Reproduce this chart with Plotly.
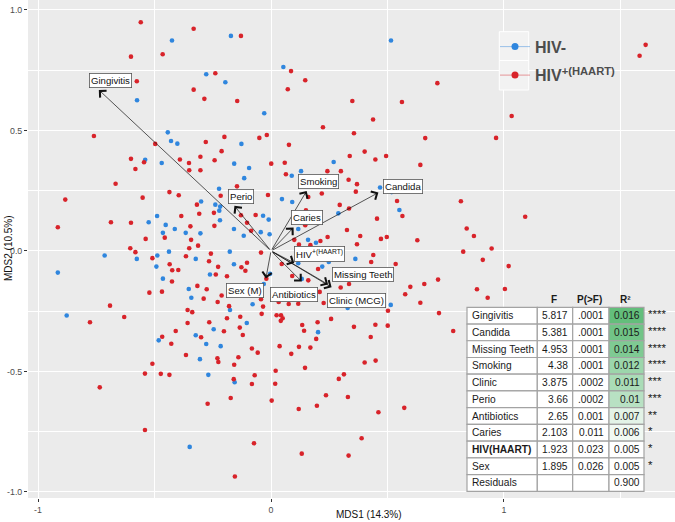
import plotly.graph_objects as go

# ---------------- data ----------------
hiv_neg_x = [-0.425, -0.172, -0.278, -0.196, -0.575, -0.443, -0.429, -0.402, -0.127, -0.540,
             -0.469, -0.158, -0.094, -0.115, -0.223, -0.300, -0.239, -0.218, -0.222, -0.127,
             -0.489, -0.525, -0.452, -0.413, -0.366, -0.303, -0.219, -0.159, -0.117, -0.464,
             0.515, 0.053, -0.029, 0.269, 0.129, 0.089, 0.047, 0.091, -0.034, -0.010,
             -0.044, -0.006, 0.289, 0.117, 0.159, 0.193, 0.468, 0.518, 0.551,
             -0.714, -0.915, -0.576, -0.488, -0.438, -0.492, -0.323, -0.177, -0.159, -0.262,
             -0.464, -0.353, -0.342, -0.176, -0.877, -0.104, -0.246, -0.323, -0.482, -0.278,
             -0.216, -0.305, -0.269, -0.156, -0.349,
             0.362, 0.248, 0.220, 0.117, -0.004, 0.132, -0.031, -0.079, 0.329, 0.514, 0.202]
hiv_neg_y = [0.873, 0.892, 0.733, 0.700, 0.625, 0.492, 0.456, 0.445, 0.444, 0.378,
             0.365, 0.362, 0.344, 0.302, 0.258, 0.205, 0.192, 0.184, 0.167, 0.203,
             0.145, 0.119, 0.108, 0.091, 0.075, 0.073, 0.127, 0.091, 0.063, 0.075,
             0.873, 0.763, 0.571, 0.369, 0.331, 0.312, 0.215, 0.203, 0.146, 0.130,
             0.078, 0.069, 0.156, 0.091, 0.046, 0.034, 0.263, 0.244, 0.170,
             -0.019, -0.090, -0.033, -0.019, -0.003, -0.065, -0.033, -0.003, -0.055, -0.098,
             -0.115, -0.158, -0.194, -0.245, -0.268, -0.299, -0.325, -0.350, -0.371, -0.386,
             -0.395, -0.449, -0.514, -0.545, -0.813,
             -0.033, -0.046, -0.065, -0.051, -0.095, -0.116, -0.137, -0.221, -0.237, -0.224, -0.337]

hiv_pos_x = [-0.559, -0.332, -0.129, -0.601, -0.465, -0.239, -0.576, -0.332, -0.286, -0.145,
             -0.760, -0.497, -0.280, -0.200, -0.212, -0.601, -0.545, -0.582, -0.391, -0.352,
             -0.303, -0.242, -0.351, -0.303, -0.667, -0.146, -0.883, -0.551, -0.436, -0.396,
             -0.216, -0.318, -0.385, -0.308, -0.245, -0.129, -0.915, -0.687, -0.601, -0.346,
             -0.243, -0.538, -0.456, -0.343, -0.313, -0.604, -0.351, -0.103,
             0.086, 0.147, 0.072, 0.714, 0.349, 0.562, 0.438, 0.223, -0.050, -0.018,
             0.356, 0.662, 0.077, 0.402, 0.338, 0.448, 0.494, 0.641, 0.001, 0.059,
             0.242, 0.300, 0.064, 0.333, 0.369, 0.364, 0.218, 0.160, -0.013, 0.541,
             0.815, 0.295, 0.335, 0.150, -0.066, 0.564, 0.455, 0.147, 0.840, 0.326,
             0.100, 0.169, 0.243, 0.212, 0.383, 0.369, 0.472, 0.497, 0.628, 0.120, -0.085,
             1.608, 1.582, 1.033, 0.966, 1.091, 0.871, 0.947, 0.909, 1.020, 0.884, 1.004, 0.930,
             -0.582, -0.365, -0.258, -0.509, -0.266, -0.435, -0.424, -0.398, -0.227, -0.127,
             -0.103, -0.110, -0.237, -0.189, -0.425, -0.316, -0.276, -0.522, -0.468, -0.212,
             -0.289, -0.229, -0.691, -0.180, -0.358, -0.338, -0.630, -0.777, -0.132, -0.189,
             -0.358, -0.265, -0.134, -0.409, -0.202, -0.121, -0.467, -0.300, -0.428, -0.365,
             -0.140, -0.230, -0.226, -0.158, -0.509, -0.541, -0.473, -0.436, -0.160, -0.735,
             -0.173, -0.272, -0.541, -0.155,
             -0.043, 0.439, 0.430, 0.535, 0.825, 0.046, 0.202, 0.091, 0.160, -0.020,
             0.335, 0.299, 0.598, 0.658, 0.717, 0.576, 0.641, 0.721, 0.502, 0.209,
             -0.043, 0.033, 0.076, 0.117, 0.226, -0.034, -0.040, 0.024, 0.043, 0.050,
             0.042, 0.258, 0.200, 0.134, 0.142, 0.356, 0.448, 0.501, 0.782, 0.428,
             0.194, 0.037, 0.120, 0.169, -0.082, -0.057, 0.087, 0.402, 0.449, 0.146,
             0.020, -0.070, -0.082, 0.018, 0.313, 0.291, 0.236, 0.330, 0.003, 0.119,
             0.197, 0.461, 0.572, 0.389, -0.073, 0.132, 0.333]
hiv_pos_y = [0.949, 0.922, 0.892, 0.806, 0.816, 0.737, 0.704, 0.669, 0.631, 0.622,
             0.477, 0.444, 0.452, 0.473, 0.414, 0.382, 0.368, 0.340, 0.379, 0.365,
             0.391, 0.376, 0.335, 0.335, 0.279, 0.268, 0.213, 0.221, 0.244, 0.231,
             0.229, 0.192, 0.145, 0.154, 0.158, 0.148, 0.098, 0.119, 0.117, 0.102,
             0.104, 0.050, 0.055, 0.046, 0.022, 0.011, 0.011, 0.117,
             0.746, 0.708, 0.671, 0.696, 0.622, 0.618, 0.545, 0.513, 0.469, 0.481,
             0.488, 0.468, 0.440, 0.412, 0.394, 0.379, 0.394, 0.357, 0.362, 0.366,
             0.331, 0.331, 0.318, 0.295, 0.277, 0.246, 0.238, 0.224, 0.232, 0.207,
             0.206, 0.191, 0.176, 0.169, 0.149, 0.145, 0.134, 0.107, 0.093, 0.087,
             0.046, 0.024, 0.058, 0.041, 0.062, 0.028, 0.050, 0.058, 0.044, 0.026, 0.084,
             0.855, 0.810, 0.560, 0.469, 0.142, 0.062, 0.010, -0.037, -0.063, -0.159, -0.158, -0.194,
             -0.005, -0.022, -0.011, -0.030, -0.043, -0.055, -0.080, -0.079, -0.066, -0.068,
             -0.049, -0.082, -0.098, -0.105, -0.127, -0.145, -0.159, -0.173, -0.169, -0.185,
             -0.198, -0.212, -0.227, -0.229, -0.245, -0.254, -0.274, -0.296, -0.273, -0.279,
             -0.299, -0.296, -0.318, -0.332, -0.333, -0.349, -0.356, -0.358, -0.385, -0.432,
             -0.441, -0.445, -0.461, -0.472, -0.468, -0.509, -0.510, -0.514, -0.532, -0.566,
             -0.610, -0.634, -0.743, -0.936,
             -0.007, -0.017, -0.046, -0.054, -0.003, -0.054, -0.075, -0.104, -0.122, -0.115,
             -0.137, -0.152, -0.149, -0.137, -0.119, -0.180, -0.215, -0.258, -0.248, -0.170,
             -0.200, -0.212, -0.220, -0.219, -0.216, -0.231, -0.261, -0.267, -0.267, -0.279,
             -0.290, -0.282, -0.296, -0.307, -0.331, -0.315, -0.306, -0.310, -0.332, -0.357,
             -0.365, -0.395, -0.398, -0.401, -0.405, -0.422, -0.427, -0.463, -0.455, -0.485,
             -0.497, -0.516, -0.552, -0.551, -0.512, -0.531, -0.599, -0.606, -0.621, -0.656,
             -0.642, -0.669, -0.651, -0.777, -0.798, -0.841, -0.849]

# fitted vectors (envfit)
vec_text = ["Gingivitis", "Perio", "Smoking", "Candida", "Caries", "HIV<sup>+(HAART)</sup>",
            "Antibiotics", "Missing Teeth", "Clinic (MCG)", "Sex (M)"]
vec_x = [-0.739, -0.157, 0.153, 0.461, 0.097, 0.100, 0.132, 0.245, 0.260, -0.022]
vec_y = [0.668, 0.187, 0.249, 0.242, 0.097, -0.050, -0.127, -0.139, -0.151, -0.114]
lab_x = [-0.689, -0.130, 0.205, 0.567, 0.154, 0.208, 0.098, 0.393, 0.369, -0.112]
lab_y = [0.707, 0.227, 0.288, 0.268, 0.138, -0.012, -0.181, -0.096, -0.204, -0.165]

# PERMANOVA table
tab_terms = ["Gingivitis", "Candida", "Missing Teeth", "Smoking", "Clinic", "Perio",
             "Antibiotics", "Caries", "<b>HIV(HAART)</b>", "Sex", "Residuals"]
tab_F = ["5.817", "5.381", "4.953", "4.38", "3.875", "3.66", "2.65", "2.103", "1.923", "1.895", ""]
tab_P = [".0001", ".0001", ".0001", ".0001", ".0002", ".0002", "0.001", "0.011", "0.023", "0.026", ""]
tab_R2 = [0.016, 0.015, 0.014, 0.012, 0.011, 0.01, 0.007, 0.006, 0.005, 0.005, 0.900]
tab_R2_text = ["0.016", "0.015", "0.014", "0.012", "0.011", "0.01", "0.007", "0.006", "0.005", "0.005", "0.900"]
tab_stars = ["****", "****", "****", "****", "***", "***", "**", "*", "*", "*", ""]
tab_header = ["F", "P(&gt;F)", "R\u00b2"]

x_tickvals = [-1, 0, 1]
x_ticktext = ["-1", "0", "1"]
y_tickvals = [-1.0, -0.5, 0.0, 0.5, 1.0]
y_ticktext = ["-1.0", "-0.5", "0.0", "0.5", "1.0"]

# ---------------- styling / layout geometry ----------------
W, H = 675, 522
ML, MR, MT, MB = 28, 0, 0, 24
PW, PH = W - ML - MR, H - MT - MB
RED = "#d8232a"
BLUE = "#2f86de"
FONT = "Liberation Sans, Arial, sans-serif"


def px_x(p):
    return (p - ML) / PW


def px_y(p):
    return (MT + PH - p) / PH


fig = go.Figure()
fig.add_trace(go.Scatter(x=hiv_neg_x, y=hiv_neg_y, mode="markers", showlegend=False,
                         marker=dict(color=BLUE, size=4.6, line=dict(width=0))))
fig.add_trace(go.Scatter(x=hiv_pos_x, y=hiv_pos_y, mode="markers", showlegend=False,
                         marker=dict(color=RED, size=4.6, line=dict(width=0))))
# legend entries
fig.add_trace(go.Scatter(x=[None], y=[None], mode="lines+markers", name="HIV-", legendgroup="a",
                         marker=dict(color=BLUE, size=7), line=dict(color="rgba(47,134,222,0.45)", width=1)))
fig.add_trace(go.Scatter(x=[None], y=[None], mode="lines+markers", name="HIV<sup>+(HAART)</sup>",
                         legendgroup="b",
                         marker=dict(color=RED, size=7), line=dict(color="rgba(216,35,42,0.45)", width=1)))

annotations = []
# arrows from origin
for vx, vy in zip(vec_x, vec_y):
    annotations.append(dict(x=vx, y=vy, ax=0, ay=0, xref="x", yref="y", axref="x", ayref="y",
                            text="", showarrow=True, arrowhead=4, arrowsize=2.6, arrowwidth=0.7,
                            arrowcolor="#111111", standoff=0))
# labels
for t, lx, ly in zip(vec_text, lab_x, lab_y):
    annotations.append(dict(x=lx, y=ly, xref="x", yref="y", text=t, showarrow=False,
                            xanchor="center", yanchor="middle",
                            font=dict(family=FONT, size=9.6, color="#111111"),
                            bgcolor="white", bordercolor="#555555", borderwidth=0.8, borderpad=1.2))

# axis titles
annotations.append(dict(x=px_x(369), y=px_y(514), xref="paper", yref="paper", text="MDS1 (14.3%)",
                        xanchor="center", yanchor="middle",
                        showarrow=False, font=dict(family=FONT, size=10, color="#111111")))
annotations.append(dict(x=px_x(8), y=px_y(248), xref="paper", yref="paper", text="MDS2 (10.5%)",
                        xanchor="center", yanchor="middle",
                        showarrow=False, textangle=-90, font=dict(family=FONT, size=10, color="#111111")))

shapes = []
# legend key backgrounds
for top, bot in [(31.7, 60.5), (60.5, 90.0)]:
    shapes.append(dict(type="rect", xref="paper", yref="paper", x0=px_x(499.3), x1=px_x(528.7),
                       y0=px_y(bot), y1=px_y(top), fillcolor="#f2f2f2",
                       line=dict(color="white", width=1), layer="above"))

# table
col_edges = [467, 537.3, 572.7, 609, 644]
row_top = 307.3
row_h = 16.73
r2_min = min(tab_R2[:-1])
r2_max = max(tab_R2[:-1])
green = (99, 190, 123)


def r2_color(v):
    t = (v - r2_min) / (r2_max - r2_min)
    r = round(255 + (green[0] - 255) * t)
    g = round(255 + (green[1] - 255) * t)
    b = round(255 + (green[2] - 255) * t)
    return f"rgb({r},{g},{b})"


tfont = dict(family=FONT, size=10.2, color="#1a1a1a")
for i in range(len(tab_terms)):
    y0 = row_top + i * row_h
    y1 = y0 + row_h
    yc = (y0 + y1) / 2
    for j in range(4):
        fill = "white"
        if j == 3 and i < len(tab_terms) - 1:
            fill = r2_color(tab_R2[i])
        shapes.append(dict(type="rect", xref="paper", yref="paper",
                           x0=px_x(col_edges[j]), x1=px_x(col_edges[j + 1]),
                           y0=px_y(y1), y1=px_y(y0), fillcolor=fill,
                           line=dict(color="#a3a3a3", width=1.2), layer="above"))
    annotations.append(dict(x=px_x(col_edges[0] + 3), y=px_y(yc), xref="paper", yref="paper",
                            text=tab_terms[i], xanchor="left", yanchor="middle", showarrow=False, font=tfont))
    if tab_F[i]:
        annotations.append(dict(x=px_x(col_edges[2] - 3), y=px_y(yc), xref="paper", yref="paper",
                                text=tab_F[i], xanchor="right", yanchor="middle", showarrow=False, font=tfont))
    if tab_P[i]:
        annotations.append(dict(x=px_x(col_edges[3] - 3), y=px_y(yc), xref="paper", yref="paper",
                                text=tab_P[i], xanchor="right", yanchor="middle", showarrow=False, font=tfont))
    annotations.append(dict(x=px_x(col_edges[4] - 2.5), y=px_y(yc), xref="paper", yref="paper",
                            text=tab_R2_text[i], xanchor="right", yanchor="middle", showarrow=False, font=tfont))
    if tab_stars[i]:
        annotations.append(dict(x=px_x(col_edges[4] + 2), y=px_y(yc - 1.5), xref="paper", yref="paper",
                                text=tab_stars[i], xanchor="left", yanchor="middle", showarrow=False,
                                font=dict(family=FONT, size=11.5, color="#1a1a1a")))
# header
for j, h in enumerate(tab_header):
    xc = (col_edges[j + 1] + col_edges[j + 2]) / 2
    annotations.append(dict(x=px_x(xc - 1.5), y=px_y(299), xref="paper", yref="paper", text=f"<b>{h}</b>",
                            xanchor="center", yanchor="middle",
                            showarrow=False, font=dict(family=FONT, size=10, color="#1a1a1a")))

fig.update_layout(
    width=W, height=H,
    margin=dict(l=ML, r=MR, t=MT, b=MB, pad=0, autoexpand=False),
    paper_bgcolor="white",
    plot_bgcolor="#ebebeb",
    font=dict(family=FONT),
    showlegend=True,
    legend=dict(x=px_x(495), y=px_y(29.7), xanchor="left", yanchor="top",
                bgcolor="rgba(0,0,0,0)", borderwidth=0, itemwidth=30,
                tracegroupgap=4.7, traceorder="grouped",
                font=dict(family=FONT, size=16, color="#4d4d4d", weight="bold")),
    xaxis=dict(range=[-1.043, 1.734], tickvals=x_tickvals, ticktext=x_ticktext, automargin=False,
               showgrid=True, gridcolor="white", gridwidth=1.1, zeroline=False,
               ticks="outside", ticklen=3, tickwidth=1, tickcolor="#333333",
               tickfont=dict(family=FONT, size=8.8, color="#4d4d4d"),
               minor=dict(tickvals=[-0.5, 0.5, 1.5], showgrid=True, gridcolor="white", gridwidth=0.55),
               showline=False),
    yaxis=dict(range=[-1.025, 1.041], tickvals=y_tickvals, ticktext=y_ticktext, automargin=False,
               showgrid=True, gridcolor="white", gridwidth=1.1, zeroline=False,
               ticks="outside", ticklen=3, tickwidth=1, tickcolor="#333333",
               tickfont=dict(family=FONT, size=8.8, color="#4d4d4d"),
               minor=dict(tickvals=[-0.75, -0.25, 0.25, 0.75], showgrid=True, gridcolor="white",
                          gridwidth=0.55),
               showline=False),
    annotations=annotations,
    shapes=shapes,
)

fig.write_html("out.html", config={"displayModeBar": False},
               post_script="document.body.style.margin='0px';")
